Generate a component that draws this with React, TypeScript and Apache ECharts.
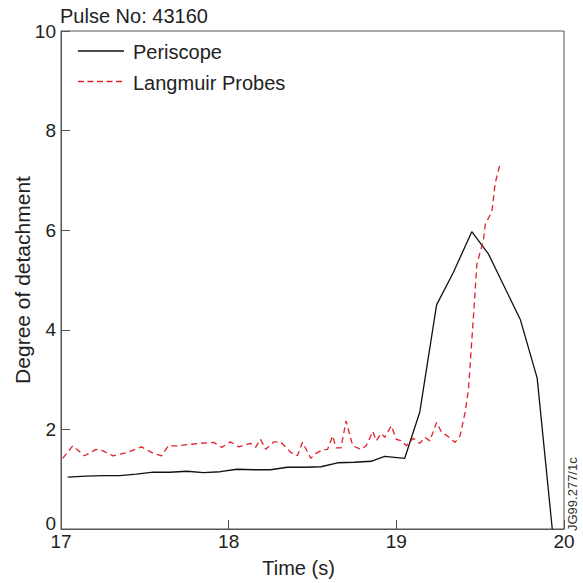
import React, { useEffect, useRef } from "react";
import * as echarts from "echarts";

const periscopeTime = [17.04, 17.15, 17.25, 17.35, 17.45, 17.55, 17.65, 17.75, 17.85, 17.95, 18.05, 18.15, 18.25, 18.35, 18.45, 18.55, 18.65, 18.75, 18.85, 18.93, 19.05, 19.14, 19.24, 19.34, 19.45, 19.55, 19.74, 19.84, 19.93];
const periscopeValue = [1.04, 1.06, 1.07, 1.07, 1.1, 1.14, 1.14, 1.16, 1.13, 1.15, 1.2, 1.19, 1.19, 1.24, 1.24, 1.25, 1.33, 1.34, 1.36, 1.46, 1.42, 2.35, 4.5, 5.15, 5.97, 5.52, 4.2, 3.03, 0.0];

const langmuirTime = [17.01, 17.07, 17.14, 17.21, 17.25, 17.31, 17.4, 17.48, 17.55, 17.6, 17.64, 17.69, 17.77, 17.83, 17.91, 17.96, 18.01, 18.06, 18.13, 18.16, 18.19, 18.22, 18.27, 18.31, 18.37, 18.41, 18.44, 18.49, 18.52, 18.56, 18.59, 18.62, 18.64, 18.67, 18.7, 18.74, 18.79, 18.82, 18.86, 18.88, 18.91, 18.93, 18.97, 19.0, 19.03, 19.06, 19.1, 19.14, 19.17, 19.2, 19.24, 19.27, 19.3, 19.35, 19.38, 19.41, 19.43, 19.46, 19.48, 19.52, 19.53, 19.57, 19.59, 19.62];
const langmuirValue = [1.42, 1.67, 1.47, 1.6, 1.57, 1.47, 1.54, 1.65, 1.52, 1.47, 1.67, 1.67, 1.7, 1.72, 1.74, 1.64, 1.75, 1.65, 1.72, 1.64, 1.8, 1.6, 1.75, 1.75, 1.54, 1.47, 1.74, 1.42, 1.52, 1.59, 1.6, 1.87, 1.63, 1.63, 2.17, 1.67, 1.6, 1.67, 1.96, 1.77, 1.92, 1.84, 2.07, 1.8, 1.77, 1.67, 1.82, 1.72, 1.84, 1.77, 2.14, 1.94, 1.88, 1.74, 1.87, 2.34, 2.8, 4.27, 5.31, 5.81, 6.11, 6.38, 6.95, 7.35];

const xTicks = [17, 18, 19, 20];
const yTicks = [0, 2, 4, 6, 8, 10];
const seriesNames = ["Periscope", "Langmuir Probes"];

const FONT = "'Liberation Sans', Arial, sans-serif";
const BLACK = "#111";
const RED = "#e0202a";

export default function App() {
  const ref = useRef<HTMLDivElement>(null);
  useEffect(() => {
    if (!ref.current) return;
    const chart = echarts.init(ref.current, undefined, { renderer: "svg" });
    const periscope = periscopeTime.map((t, i) => [t, periscopeValue[i]]);
    const langmuir = langmuirTime.map((t, i) => [t, langmuirValue[i]]);
    const legendItems = seriesNames.map((name, i) => {
      const y = 51 + i * 30.5;
      return [
        {
          type: "line",
          shape: { x1: 78, y1: y, x2: 124, y2: y },
          style: {
            stroke: i === 0 ? BLACK : RED,
            lineWidth: 1.3,
            lineDash: i === 0 ? null : [6, 3.5],
          },
        },
        {
          type: "text",
          x: 133,
          y: y + 1,
          style: {
            text: name,
            fontFamily: FONT,
            fontSize: 20,
            fill: "#222",
            align: "left",
            verticalAlign: "middle",
          },
        },
      ];
    }).flat();
    chart.setOption({
      animation: false,
      backgroundColor: "#ffffff",
      textStyle: { fontFamily: FONT },
      title: {
        text: "Pulse No: 43160",
        left: 55,
        top: 1,
        textStyle: { fontFamily: FONT, fontSize: 20, fontWeight: "normal", color: "#222" },
      },
      grid: {
        left: 61,
        right: 19,
        top: 31,
        bottom: 54,
        show: true,
        borderColor: "#555",
        borderWidth: 1,
        containLabel: false,
        outerBoundsMode: "none",
      },
      xAxis: {
        type: "value",
        min: xTicks[0],
        max: xTicks[xTicks.length - 1],
        interval: 1,
        name: "Time (s)",
        nameLocation: "middle",
        nameGap: 29,
        nameMoveOverlap: false,
        nameTextStyle: { fontFamily: FONT, fontSize: 20, color: "#222", padding: [0, 28, 0, 0] },
        axisLine: { show: true, lineStyle: { color: "#555", width: 1 } },
        axisTick: { show: true, inside: true, length: 9, lineStyle: { color: "#555" } },
        axisLabel: { fontFamily: FONT, fontSize: 19, color: "#222", margin: 3 },
        splitLine: { show: false },
      },
      yAxis: {
        type: "value",
        min: yTicks[0],
        max: yTicks[yTicks.length - 1],
        interval: 2,
        name: "Degree of detachment",
        nameLocation: "middle",
        nameGap: 28,
        nameMoveOverlap: false,
        nameTextStyle: { fontFamily: FONT, fontSize: 21, color: "#222" },
        axisLine: { show: true, lineStyle: { color: "#555", width: 1 } },
        axisTick: { show: true, inside: true, length: 9, lineStyle: { color: "#555" } },
        axisLabel: {
          fontFamily: FONT,
          fontSize: 19,
          color: "#222",
          margin: 5,
          lineHeight: 12,
          padding: [6, 0, 0, 0],
          verticalAlignMinLabel: "bottom",
        },
        splitLine: { show: false },
      },
      graphic: [
        ...legendItems,
        {
          type: "text",
          x: 566,
          y: 531,
          rotation: Math.PI / 2,
          style: {
            text: "JG99.277/1c",
            fontFamily: FONT,
            fontSize: 13,
            fill: "#333",
            align: "left",
            verticalAlign: "top",
          },
        },
      ],
      series: [
        {
          name: seriesNames[0],
          type: "line",
          data: periscope,
          symbol: "none",
          lineStyle: { color: BLACK, width: 1.3 },
          itemStyle: { color: BLACK },
        },
        {
          name: seriesNames[1],
          type: "line",
          data: langmuir,
          symbol: "none",
          lineStyle: { color: RED, width: 1.3, type: [6, 4] },
          itemStyle: { color: RED },
        },
      ],
    });
    return () => chart.dispose();
  }, []);
  return <div ref={ref} style={{ width: 583, height: 583, position: "absolute", left: 0, top: 0 }} />;
}
